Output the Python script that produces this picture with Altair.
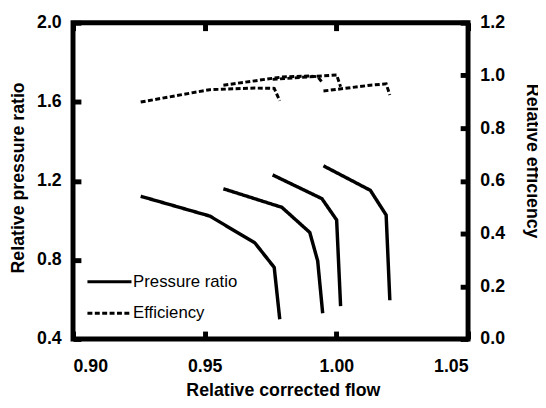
import altair as alt
import pandas as pd

# ---- data ----
speed_ids = ["N1", "N2", "N3", "N4"]
flow = {
    "N1": [0.9257, 0.9519, 0.9690, 0.9764, 0.9785],
    "N2": [0.9571, 0.9793, 0.9899, 0.9929, 0.9948],
    "N3": [0.9758, 0.9945, 1.0001, 1.0016],
    "N4": [0.9951, 1.0129, 1.0189, 1.0203],
}
pressure = {
    "N1": [1.122, 1.022, 0.887, 0.762, 0.500],
    "N2": [1.160, 1.066, 0.939, 0.795, 0.530],
    "N3": [1.230, 1.110, 1.002, 0.566],
    "N4": [1.276, 1.152, 1.027, 0.596],
}
efficiency = {
    "N1": [0.899, 0.946, 0.952, 0.951, 0.904],
    "N2": [0.963, 0.994, 0.998, 0.995, 0.972],
    "N3": [0.985, 0.998, 1.002, 0.957],
    "N4": [0.941, 0.963, 0.968, 0.926],
}
series_names = ["Pressure ratio", "Efficiency"]
x_ticks = [0.90, 0.95, 1.00, 1.05]
y_left_ticks = [0.4, 0.8, 1.2, 1.6, 2.0]
y_right_ticks = [0.0, 0.2, 0.4, 0.6, 0.8, 1.0, 1.2]

rows_p, rows_e = [], []
for s in speed_ids:
    for i, (f, p) in enumerate(zip(flow[s], pressure[s])):
        rows_p.append({"speed": s, "order": i, "flow": f, "value": p, "series": series_names[0]})
    for i, (f, e) in enumerate(zip(flow[s], efficiency[s])):
        rows_e.append({"speed": s, "order": i, "flow": f, "value": e, "series": series_names[1]})
df_p = pd.DataFrame(rows_p)
df_e = pd.DataFrame(rows_e)

FONT = "Liberation Sans"
W, H = 401, 321

x_scale = alt.Scale(domain=[0.90, 1.05], nice=False, zero=False)
yl_scale = alt.Scale(domain=[0.4, 2.0], nice=False, zero=False)
yr_scale = alt.Scale(domain=[0.0, 1.2], nice=False, zero=False)
dash_scale = alt.Scale(domain=series_names, range=[[1, 0], [5, 2.5]])

common_axis = dict(
    domain=False, grid=False, ticks=False,
    labelFont=FONT, labelFontSize=18, labelFontWeight="bold", labelColor="black",
    titleFont=FONT, titleFontSize=18, titleFontWeight="bold", titleColor="black",
)

tick_axis = dict(domain=False, labels=False, title=None, grid=False,
                 ticks=True, tickSize=8, tickWidth=5, tickColor="black", offset=-8)

legend = alt.Legend(
    title=None, orient="none", legendX=13, legendY=239,
    symbolType="stroke", symbolSize=2000, symbolStrokeWidth=3,
    symbolStrokeColor="black", symbolFillColor="black",
    labelFont=FONT, labelFontSize=17, labelColor="black", labelOffset=0,
    rowPadding=-12, values=series_names, padding=0,
)

pressure_line = alt.Chart(df_p).mark_line(color="black", strokeWidth=3.5).encode(
    x=alt.X("flow:Q", scale=x_scale,
            axis=alt.Axis(orient="bottom", values=x_ticks, format=".2f",
                          labelPadding=19, title="Relative corrected flow",
                          titlePadding=6, titleX=213, **common_axis)),
    y=alt.Y("value:Q", scale=yl_scale,
            axis=alt.Axis(orient="left", values=y_left_ticks, format=".1f",
                          labelPadding=12, title="Relative pressure ratio",
                          titleX=-55, titleY=157, titleBaseline="middle", **common_axis)),
    detail="speed:N",
    order="order:Q",
    strokeDash=alt.StrokeDash("series:N", scale=dash_scale, legend=legend),
)

eff_line = alt.Chart(df_e).mark_line(color="black", strokeWidth=3).encode(
    x=alt.X("flow:Q", scale=x_scale,
            axis=alt.Axis(orient="top", labels=False, title=None,
                          values=x_ticks, **common_axis)),
    y=alt.Y("value:Q", scale=yr_scale,
            axis=alt.Axis(orient="right", values=y_right_ticks, format=".1f",
                          labelPadding=12, title="Relative efficiency",
                          titleX=64, titleY=140, titleAngle=90, titleBaseline="middle",
                          **common_axis)),
    detail="speed:N",
    order="order:Q",
    strokeDash=alt.StrokeDash("series:N", scale=dash_scale, legend=legend),
)

pressure_ticks = alt.Chart(df_p).mark_line(opacity=0).encode(
    x=alt.X("flow:Q", scale=x_scale, axis=alt.Axis(orient="bottom", values=x_ticks, **tick_axis)),
    y=alt.Y("value:Q", scale=yl_scale, axis=alt.Axis(orient="left", values=y_left_ticks, **tick_axis)),
    detail="speed:N",
)

eff_ticks = alt.Chart(df_e).mark_line(opacity=0).encode(
    x=alt.X("flow:Q", scale=x_scale, axis=alt.Axis(orient="top", values=x_ticks, **tick_axis)),
    y=alt.Y("value:Q", scale=yr_scale, axis=alt.Axis(orient="right", values=y_right_ticks, **tick_axis)),
    detail="speed:N",
)

chart = (
    alt.layer(pressure_line, eff_line, pressure_ticks, eff_ticks)
    .resolve_scale(y="independent", strokeDash="shared")
    .resolve_axis(x="independent", y="independent")
    .properties(
        width=W, height=H,
        background="white",
        autosize=alt.AutoSizeParams(type="none"),
        padding={"left": 66, "top": 12, "right": 71, "bottom": 59},
    )
    .configure_view(stroke="black", strokeWidth=5)
)

chart.save("out.html", embed_options={"renderer": "svg", "actions": False})
